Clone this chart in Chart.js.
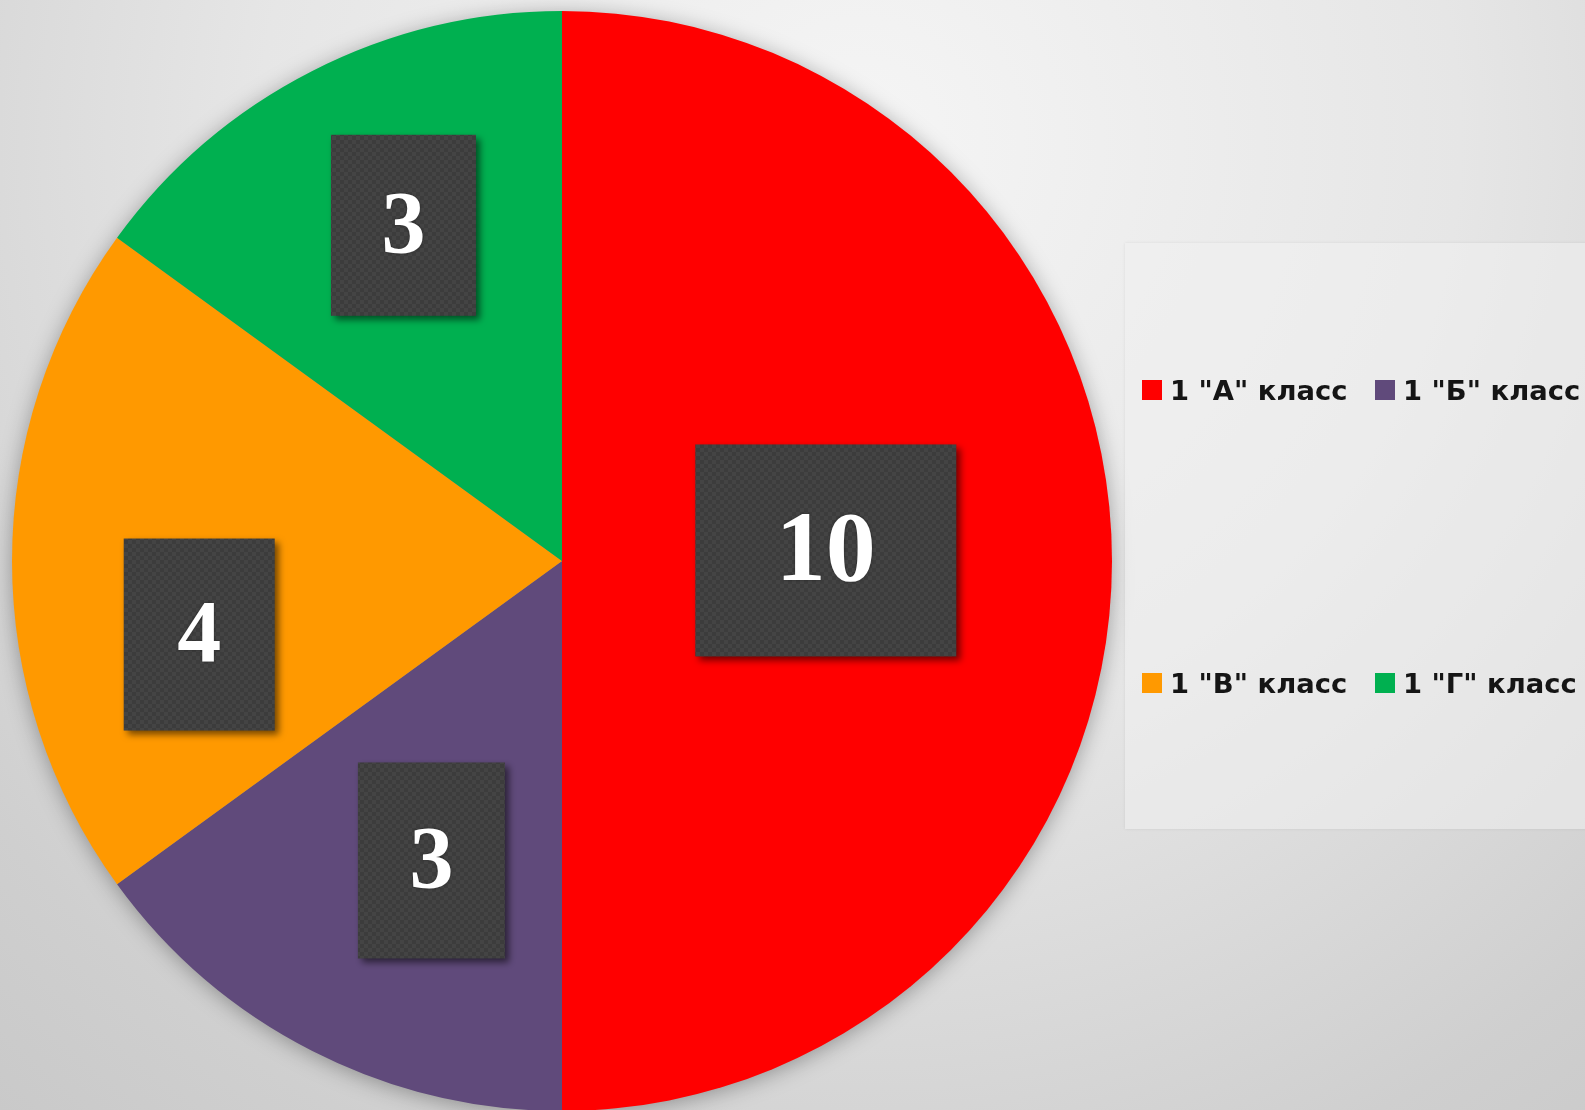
<!DOCTYPE html>
<html>
<head>
<meta charset="utf-8">
<script src="https://cdn.jsdelivr.net/npm/chart.js@4"></script>
<style>
  html, body { margin: 0; padding: 0; width: 1585px; height: 1110px; overflow: hidden; }
  body { background: radial-gradient(circle at 860px 140px, #f5f5f5 0px, #e6e6e6 600px, #cfcfcf 1100px, #c6c6c6 1400px); position: relative; }
  #wrap { position: absolute; left: 0; top: 0; width: 1585px; height: 1110px; }
  #legendPanel { position: absolute; left: 1125px; top: 243px; width: 470px; height: 586px; background: rgba(240,240,240,0.55); box-shadow: 0 0 3px rgba(0,0,0,0.08); }
  .item { position: absolute; display: flex; align-items: center; font-family: "DejaVu Sans", sans-serif; font-weight: 700; font-size: 27.4px; color: #151515; white-space: nowrap; }
  .sw { width: 20px; height: 20px; margin-right: 8px; flex: none; }
</style>
</head>
<body>
<div id="wrap"><canvas id="c" width="1585" height="1110"></canvas></div>
<div id="legendPanel"></div>
<script>
const labels = ['1 "А" класс', '1 "Б" класс', '1 "В" класс', '1 "Г" класс'];
const values = [10, 3, 4, 3];
const colors = ['#ff0000', '#604a7b', '#ff9900', '#00b050'];

// label-box styling (placement relative to each slice, sizes)
const boxStyle = [
  { dist: 0.48,  dAng: -0.04, w: 261, h: 212, size: 100 },
  { dist: 0.594, dAng: -0.06, w: 147, h: 196, size: 88 },
  { dist: 0.673, dAng: -0.20, w: 151, h: 192, size: 88 },
  { dist: 0.675, dAng: 0.03,  w: 145, h: 181, size: 88 }
];
// legend item placement (style)
const legendPos = [
  { x: 1142, y: 390 }, { x: 1375, y: 390 },
  { x: 1142, y: 683 }, { x: 1375, y: 683 }
];

// HTML legend built from data arrays
labels.forEach((lab, i) => {
  const d = document.createElement('div');
  d.className = 'item';
  d.style.left = legendPos[i].x + 'px';
  d.style.top = (legendPos[i].y - 20) + 'px';
  d.style.height = '40px';
  const s = document.createElement('span');
  s.className = 'sw';
  s.style.background = colors[i];
  const t = document.createElement('span');
  t.textContent = lab;
  d.appendChild(s); d.appendChild(t);
  document.body.appendChild(d);
});

function makePattern(ctx) {
  const p = document.createElement('canvas');
  p.width = 8; p.height = 8;
  const g = p.getContext('2d');
  g.fillStyle = '#444444'; g.fillRect(0, 0, 8, 8);
  g.fillStyle = '#3c3c3c'; g.fillRect(0, 0, 4, 4); g.fillRect(4, 4, 4, 4);
  return ctx.createPattern(p, 'repeat');
}

const pieShadow = {
  id: 'pieShadow',
  beforeDatasetsDraw(chart) {
    const arc = chart.getDatasetMeta(0).data[0];
    if (!arc) return;
    const { x, y, outerRadius } = arc.getProps(['x', 'y', 'outerRadius'], true);
    const ctx = chart.ctx;
    ctx.save();
    ctx.shadowColor = 'rgba(0,0,0,0.35)';
    ctx.shadowBlur = 22;
    ctx.shadowOffsetX = 0;
    ctx.shadowOffsetY = 3;
    ctx.fillStyle = '#888';
    ctx.beginPath();
    ctx.arc(x, y, outerRadius - 1, 0, Math.PI * 2);
    ctx.fill();
    ctx.restore();
  }
};

const valueBoxes = {
  id: 'valueBoxes',
  afterDatasetsDraw(chart) {
    const ctx = chart.ctx;
    const pat = makePattern(ctx);
    const ds = chart.data.datasets[0];
    chart.getDatasetMeta(0).data.forEach((arc, i) => {
      const p = arc.getProps(['x', 'y', 'startAngle', 'endAngle', 'outerRadius'], true);
      const st = boxStyle[i];
      const mid = (p.startAngle + p.endAngle) / 2 + st.dAng;
      const cx = p.x + Math.cos(mid) * p.outerRadius * st.dist;
      const cy = p.y + Math.sin(mid) * p.outerRadius * st.dist;
      ctx.save();
      ctx.shadowColor = 'rgba(0,0,0,0.55)';
      ctx.shadowBlur = 7;
      ctx.shadowOffsetX = 4;
      ctx.shadowOffsetY = 4;
      ctx.fillStyle = pat;
      ctx.fillRect(cx - st.w / 2, cy - st.h / 2, st.w, st.h);
      ctx.restore();
      ctx.save();
      ctx.fillStyle = '#ffffff';
      ctx.font = 'bold ' + st.size + 'px "Liberation Serif", "Times New Roman", serif';
      ctx.textAlign = 'center';
      ctx.textBaseline = 'middle';
      ctx.shadowColor = 'rgba(0,0,0,0.4)';
      ctx.shadowBlur = 3;
      ctx.fillText(String(ds.data[i]), cx, cy + st.size * 0.04);
      ctx.restore();
    });
  }
};

new Chart(document.getElementById('c'), {
  type: 'pie',
  data: {
    labels: labels,
    datasets: [{
      data: values,
      backgroundColor: colors,
      borderWidth: 0,
      hoverOffset: 0
    }]
  },
  options: {
    responsive: false,
    animation: false,
    radius: 550,
    layout: { padding: { left: 12, top: 12, right: 473, bottom: 0 } },
    plugins: {
      legend: { display: false },
      tooltip: { enabled: false }
    }
  },
  plugins: [pieShadow, valueBoxes]
});
</script>
</body>
</html>
